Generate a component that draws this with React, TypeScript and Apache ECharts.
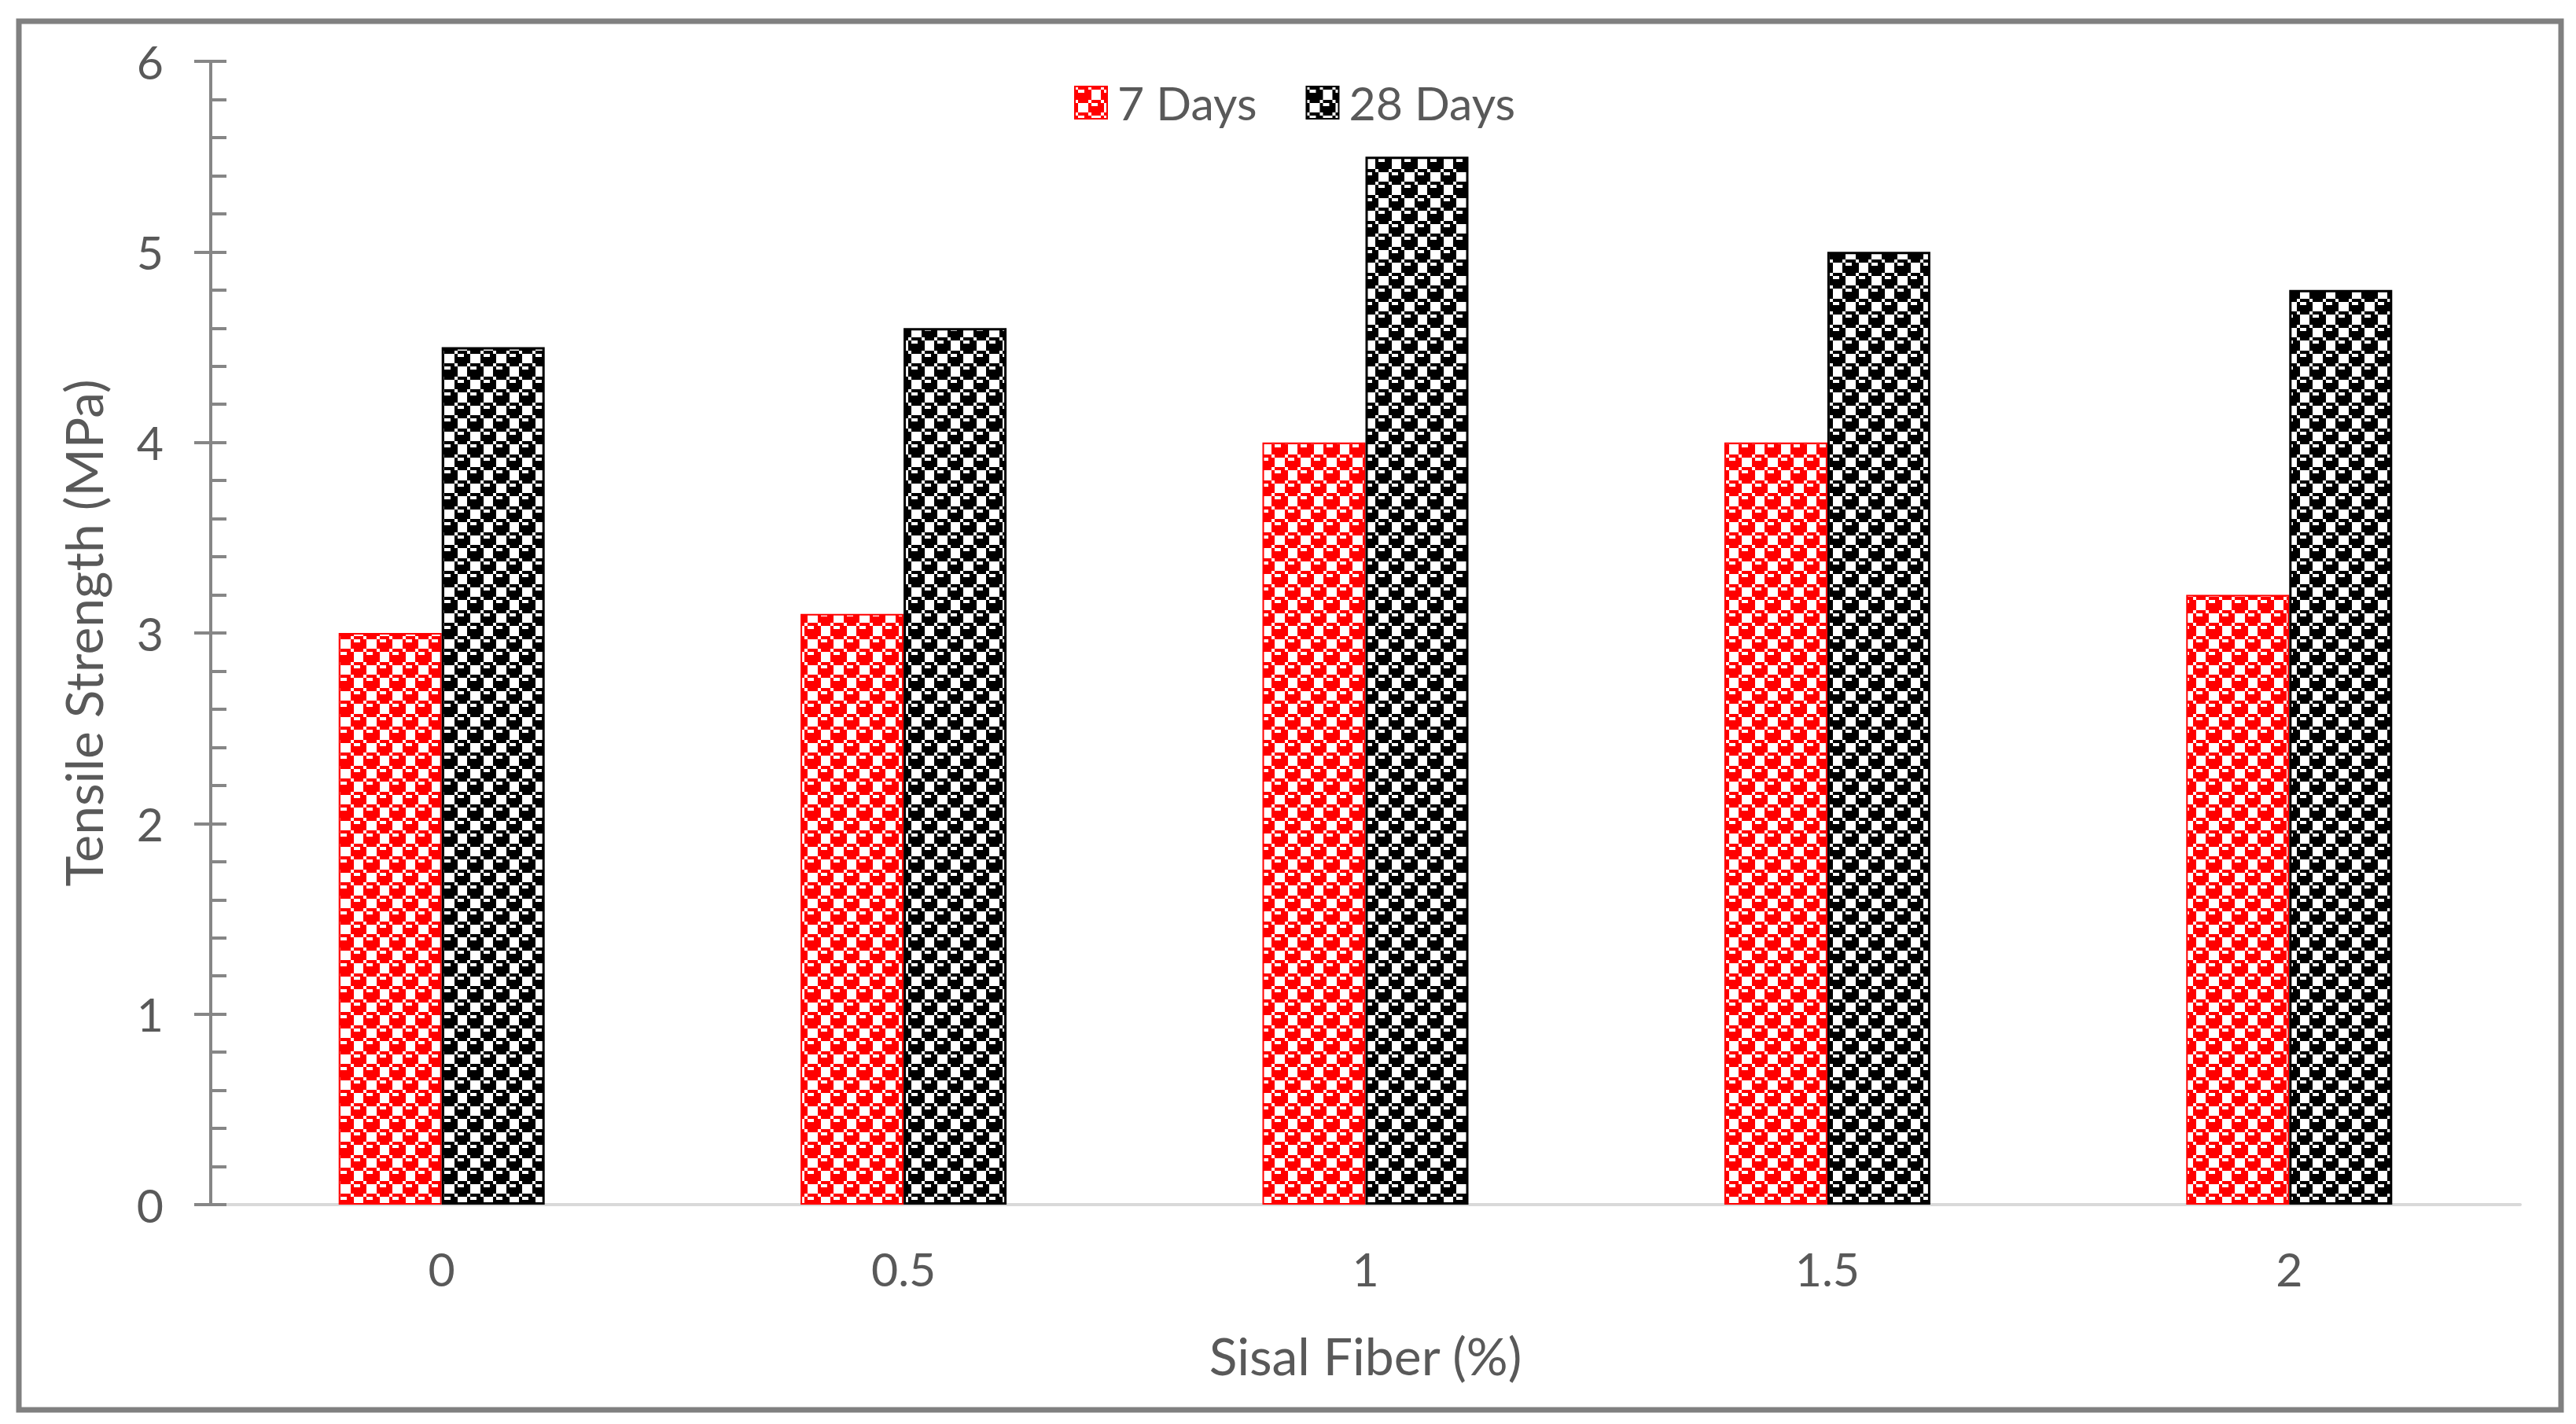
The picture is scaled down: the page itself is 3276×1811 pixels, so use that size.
import React, { useEffect, useRef } from "react";
import * as echarts from "echarts";

const categories = ["0", "0.5", "1", "1.5", "2"];
const days7 = [3.0, 3.1, 4.0, 4.0, 3.2];
const days28 = [4.5, 4.6, 5.5, 5.0, 4.8];
const seriesNames = ["7 Days", "28 Days"];
const yTicks = { min: 0, max: 6, interval: 1 };

// Excel "Sphere" 8x8 hatch bitmap
const SPHERE = [0x77, 0x98, 0xf8, 0xf8, 0x77, 0x89, 0x8f, 0x8f];

function makePattern(fg: string): HTMLCanvasElement {
  const size = 33;
  const c = document.createElement("canvas");
  c.width = size;
  c.height = size;
  const ctx = c.getContext("2d")!;
  ctx.fillStyle = "#ffffff";
  ctx.fillRect(0, 0, size, size);
  ctx.fillStyle = fg;
  const e = Array.from({ length: 9 }, (_, i) => Math.round((i * size) / 8));
  for (let r = 0; r < 8; r++) {
    for (let col = 0; col < 8; col++) {
      if ((SPHERE[r] >> (7 - col)) & 1) {
        ctx.fillRect(e[col], e[r], e[col + 1] - e[col], e[r + 1] - e[r]);
      }
    }
  }
  return c;
}

const FONT = "Lato";
const TXT = "#595959";

export default function App() {
  const ref = useRef<HTMLDivElement>(null);
  useEffect(() => {
    if (!ref.current) return;
    const chart = echarts.init(ref.current, undefined, { renderer: "svg" });
    const redPat = makePattern("#ff0000");
    const blackPat = makePattern("#000000");
    chart.setOption({
      animation: false,
      backgroundColor: "#ffffff",
      textStyle: { fontFamily: FONT },
      grid: {
        left: 268,
        top: 78,
        width: 2937,
        height: 1454,
        containLabel: false,
        outerBoundsMode: "none",
      },
      legend: {
        left: 1361,
        top: 96,
        icon: "rect",
        itemWidth: 41,
        itemHeight: 41,
        itemGap: 62,
        data: seriesNames,
        textStyle: {
          fontFamily: FONT,
          fontSize: 59,
          color: TXT,
          padding: [0, 0, 0, 8],
        },
      },
      xAxis: {
        type: "category",
        data: categories,
        name: "Sisal Fiber (%)",
        nameLocation: "middle",
        nameGap: 158,
        nameTextStyle: { fontFamily: FONT, fontSize: 66, color: TXT },
        axisLine: { show: true, lineStyle: { color: "#d9d9d9", width: 4 } },
        axisTick: { show: false },
        axisLabel: { fontFamily: FONT, fontSize: 59, color: TXT, margin: 52 },
        splitLine: { show: false },
      },
      yAxis: [
        {
          type: "value",
          min: yTicks.min,
          max: yTicks.max,
          interval: yTicks.interval,
          position: "left",
          name: "Tensile Strength (MPa)",
          nameLocation: "middle",
          nameGap: 130,
          nameTextStyle: { fontFamily: FONT, fontSize: 66, color: TXT },
          axisLine: { show: true, lineStyle: { color: "#868686", width: 4 } },
          axisTick: {
            show: true,
            inside: false,
            length: 21,
            lineStyle: { color: "#868686", width: 4 },
          },
          axisLabel: { fontFamily: FONT, fontSize: 59, color: TXT, margin: 60 },
          splitLine: { show: false },
        },
        {
          type: "value",
          min: yTicks.min,
          max: yTicks.max,
          interval: yTicks.interval,
          position: "left",
          offset: 0,
          axisLine: { show: false },
          axisTick: {
            show: true,
            inside: true,
            length: 20,
            lineStyle: { color: "#868686", width: 4 },
          },
          minorTick: {
            show: true,
            splitNumber: 5,
            length: 20,
            lineStyle: { color: "#868686", width: 4 },
          },
          axisLabel: { show: false },
          splitLine: { show: false },
        },
      ],
      series: [
        {
          name: seriesNames[0],
          type: "bar",
          yAxisIndex: 0,
          data: days7,
          barWidth: 131,
          barGap: "0%",
          itemStyle: {
            color: { image: redPat, repeat: "repeat" },
            borderColor: "#ff0000",
            borderWidth: 2,
          },
        },
        {
          name: seriesNames[1],
          type: "bar",
          yAxisIndex: 0,
          data: days28,
          barWidth: 131,
          barGap: "0%",
          itemStyle: {
            color: { image: blackPat, repeat: "repeat" },
            borderColor: "#000000",
            borderWidth: 3,
          },
        },
      ],
      graphic: [
        {
          type: "rect",
          silent: true,
          shape: { x: 24, y: 27, width: 3233, height: 1766 },
          style: { fill: "none", stroke: "#808080", lineWidth: 7 },
          z: 100,
        },
      ],
    });
    return () => chart.dispose();
  }, []);
  return (
    <div
      ref={ref}
      style={{
        position: "fixed",
        left: 0,
        top: 0,
        width: 3276,
        height: 1811,
        background: "#ffffff",
      }}
    />
  );
}
